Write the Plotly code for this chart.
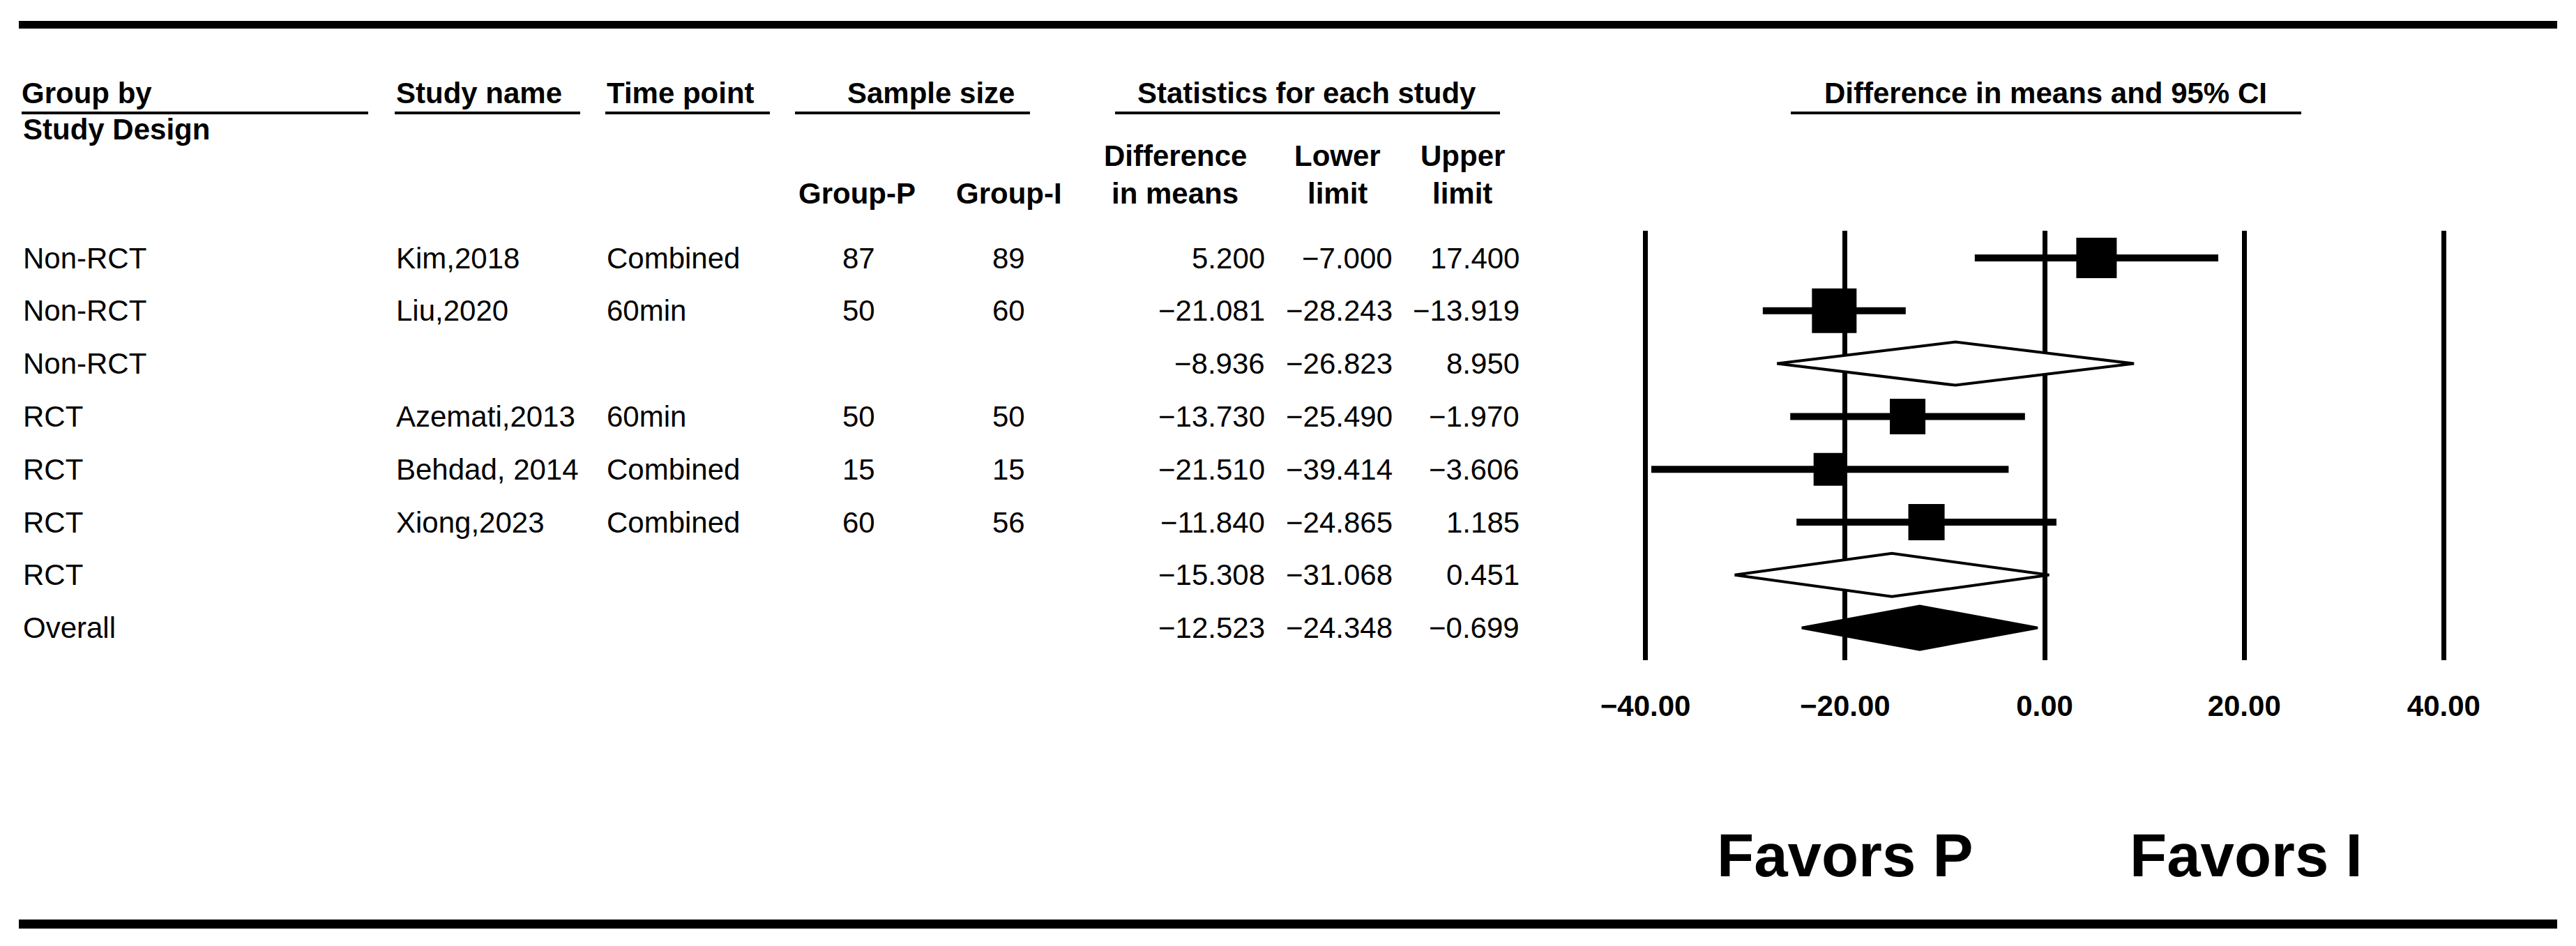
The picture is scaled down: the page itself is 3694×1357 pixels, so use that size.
import plotly.graph_objects as go

# ---------------- data ----------------
groups = ["Non-RCT", "Non-RCT", "Non-RCT", "RCT", "RCT", "RCT", "RCT", "Overall"]
studies = ["Kim,2018", "Liu,2020", "", "Azemati,2013", "Behdad, 2014", "Xiong,2023", "", ""]
timepoints = ["Combined", "60min", "", "60min", "Combined", "Combined", "", ""]
n_group_p = [87, 50, None, 50, 15, 60, None, None]
n_group_i = [89, 60, None, 50, 15, 56, None, None]
diff_means = [5.200, -21.081, -8.936, -13.730, -21.510, -11.840, -15.308, -12.523]
lower_limit = [-7.000, -28.243, -26.823, -25.490, -39.414, -24.865, -31.068, -24.348]
upper_limit = [17.400, -13.919, 8.950, -1.970, -3.606, 1.185, 0.451, -0.699]
row_kind = ["study", "study", "subgroup", "study", "study", "study", "subgroup", "overall"]
tick_vals = [-40, -20, 0, 20, 40]
tick_text = ["\u221240.00", "\u221220.00", "0.00", "20.00", "40.00"]
favors_left = "Favors P"
favors_right = "Favors I"

# ---------------- layout helpers (reference pixel space) ----------------
W, H = 3694, 1357
M = 8  # browser body margin
FW, FH = W - 2 * M, H - 2 * M
FONT = "Liberation Sans, Arial, sans-serif"


def px(x):
    return (x - M) / FW


def py(y):
    return 1 - (y - M) / FH


ROW0_Y, ROW_PITCH = 370.0, 75.8
PLOT_TOP, PLOT_BOT = 331.0, 947.0
X_ZERO, PX_PER_UNIT = 2932.0, 14.31
XR = 40.6


def row_of(ypix):
    return (ypix - ROW0_Y) / ROW_PITCH


# style sizes (square markers, px)
square_px = [58, 64, None, 51, 47, 52, None, None]
DIAMOND_HALF = 31.0 / ROW_PITCH

rows = list(range(len(groups)))

fig = go.Figure()

# study squares with CI bars
st = [i for i in rows if row_kind[i] == "study"]
fig.add_trace(go.Scatter(
    x=[diff_means[i] for i in st],
    y=[rows[i] for i in st],
    mode="markers",
    marker=dict(symbol="square", size=[square_px[i] for i in st], color="black",
                opacity=1, line=dict(width=0)),
    error_x=dict(type="data", symmetric=False,
                 array=[upper_limit[i] - diff_means[i] for i in st],
                 arrayminus=[diff_means[i] - lower_limit[i] for i in st],
                 thickness=10, width=0, color="black"),
    showlegend=False, hoverinfo="skip", cliponaxis=False,
))

# diamonds
for i in rows:
    if row_kind[i] == "study":
        continue
    filled = row_kind[i] == "overall"
    fig.add_trace(go.Scatter(
        x=[lower_limit[i], diff_means[i], upper_limit[i], diff_means[i], lower_limit[i]],
        y=[rows[i], rows[i] - DIAMOND_HALF, rows[i], rows[i] + DIAMOND_HALF, rows[i]],
        mode="lines", fill="toself",
        fillcolor="black" if filled else "white",
        line=dict(color="black", width=4),
        showlegend=False, hoverinfo="skip", cliponaxis=False,
    ))

ann = []


def add_text(text, x, y, size=42, bold=False, xanchor="left", yref="paper"):
    t = f"<b>{text}</b>" if bold else text
    ann.append(dict(text=t, x=x, y=y, xref="paper", yref=yref, xanchor=xanchor,
                    yanchor="middle", showarrow=False,
                    font=dict(family=FONT, size=size, color="black")))


def fmt(v):
    return f"{v:.3f}".replace("-", "\u2212")


# table body
for i in rows:
    add_text(groups[i], px(31), rows[i], yref="y")
    if studies[i]:
        add_text(studies[i], px(566), rows[i], yref="y")
    if timepoints[i]:
        add_text(timepoints[i], px(868), rows[i], yref="y")
    if n_group_p[i] is not None:
        add_text(str(n_group_p[i]), px(1231), rows[i], xanchor="center", yref="y")
    if n_group_i[i] is not None:
        add_text(str(n_group_i[i]), px(1446), rows[i], xanchor="center", yref="y")
    add_text(fmt(diff_means[i]), px(1816), rows[i], xanchor="right", yref="y")
    add_text(fmt(lower_limit[i]), px(1999), rows[i], xanchor="right", yref="y")
    add_text(fmt(upper_limit[i]), px(2181), rows[i], xanchor="right", yref="y")

# headers
HY1, HY2, HY3, HY4 = 134, 186, 223, 278
add_text("Group by", px(29), py(HY1), bold=True)
add_text("Study Design", px(31), py(HY2), bold=True)
add_text("Study name", px(566), py(HY1), bold=True)
add_text("Time point", px(868), py(HY1), bold=True)
add_text("Sample size", px(1335), py(HY1), bold=True, xanchor="center")
add_text("Statistics for each study", px(1874), py(HY1), bold=True, xanchor="center")
add_text("Difference in means and 95% CI", px(2933), py(HY1), bold=True, xanchor="center")
add_text("Group-P", px(1229), py(HY4), bold=True, xanchor="center")
add_text("Group-I", px(1447), py(HY4), bold=True, xanchor="center")
add_text("Difference", px(1685), py(HY3), bold=True, xanchor="center")
add_text("in means", px(1685), py(HY4), bold=True, xanchor="center")
add_text("Lower", px(1918), py(HY3), bold=True, xanchor="center")
add_text("limit", px(1918), py(HY4), bold=True, xanchor="center")
add_text("Upper", px(2097), py(HY3), bold=True, xanchor="center")
add_text("limit", px(2097), py(HY4), bold=True, xanchor="center")

# favors labels
add_text(favors_left, px(2646), py(1226), size=87, bold=True, xanchor="center")
add_text(favors_right, px(3221), py(1226), size=87, bold=True, xanchor="center")

shapes = []
# thick top and bottom rules
for (y0, y1) in [(30, 41), (1319, 1332)]:
    shapes.append(dict(type="rect", xref="paper", yref="paper", x0=px(27), x1=px(3667),
                       y0=py(y1), y1=py(y0), fillcolor="black", line=dict(width=0)))
# header underlines
for (a, b) in [(31, 528), (566, 832), (868, 1104), (1140, 1477), (1599, 2151), (2568, 3300)]:
    shapes.append(dict(type="line", xref="paper", yref="paper", x0=px(a), x1=px(b),
                       y0=py(162), y1=py(162), line=dict(color="black", width=4)))

fig.update_layout(
    width=FW, height=FH,
    margin=dict(l=0, r=0, t=0, b=0, pad=0, autoexpand=False),
    paper_bgcolor="white", plot_bgcolor="white",
    annotations=ann, shapes=shapes, showlegend=False,
    xaxis=dict(
        domain=[px(X_ZERO - XR * PX_PER_UNIT), px(X_ZERO + XR * PX_PER_UNIT)],
        range=[-XR, XR], tickvals=tick_vals, ticktext=tick_text,
        showgrid=True, gridcolor="black", gridwidth=7, zeroline=False,
        showline=False, ticks="outside", ticklen=29, tickcolor="rgba(0,0,0,0)",
        tickfont=dict(family=FONT, size=42, color="black", weight="bold"),
        automargin=False, fixedrange=True,
    ),
    yaxis=dict(
        domain=[py(PLOT_BOT), py(PLOT_TOP)],
        range=[row_of(PLOT_BOT), row_of(PLOT_TOP)],
        showgrid=False, zeroline=False, showticklabels=False, showline=False,
        automargin=False, fixedrange=True,
    ),
)

fig.write_html("out.html")
